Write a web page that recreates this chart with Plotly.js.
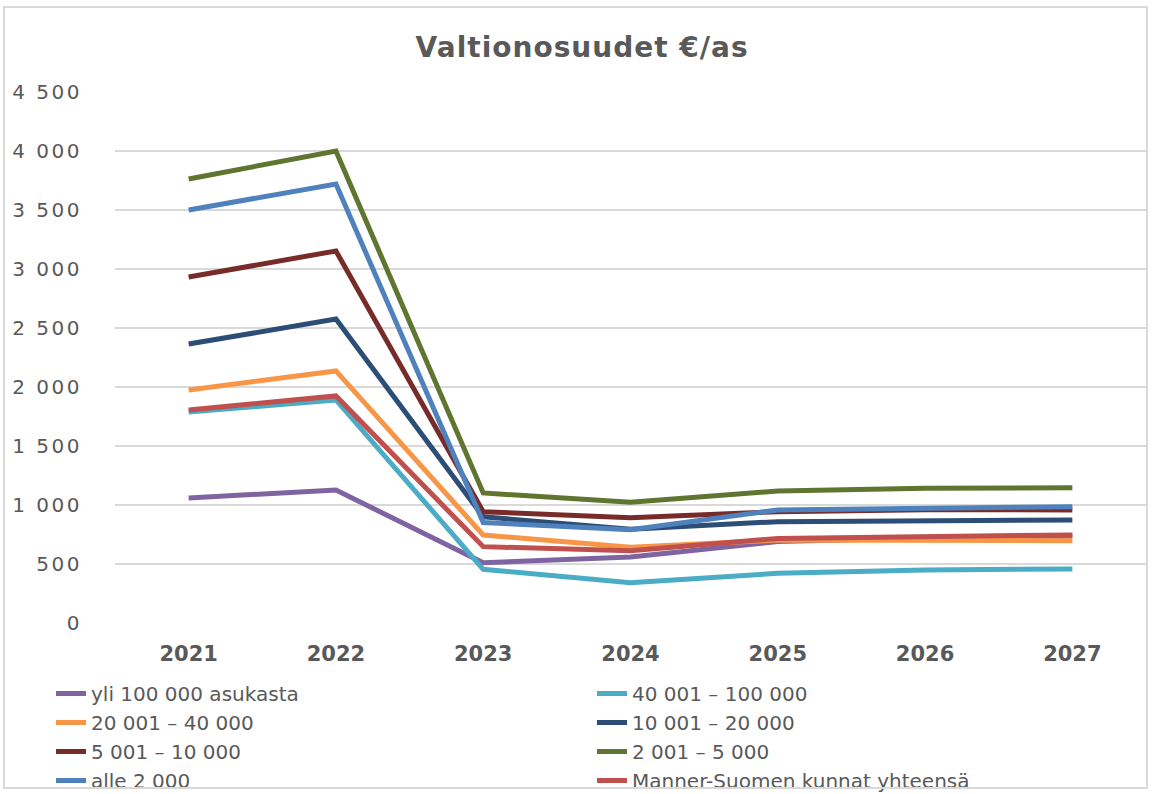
<!DOCTYPE html>
<html><head><meta charset="utf-8">
<script src="https://cdn.plot.ly/plotly-3.0.1.min.js"></script>
<style>
html,body{margin:0;padding:0;background:#fff;}
#wrap{position:relative;width:1155px;height:794px;}
#chart{width:1155px;height:794px;}
#frame{position:absolute;left:3px;top:6px;width:1145px;height:783px;border:2px solid #d9d9d9;box-sizing:border-box;pointer-events:none;}
#chart .ytick text{letter-spacing:2.5px;}
#chart .gtitle{letter-spacing:1px;}
</style>
</head><body>
<div id="wrap"><div id="chart"></div><div id="frame"></div></div>
<script>
const years = ['2021','2022','2023','2024','2025','2026','2027'];
const seriesNames = ['yli 100 000 asukasta','40 001 – 100 000','20 001 – 40 000','10 001 – 20 000','5 001 – 10 000','2 001 – 5 000','alle 2 000','Manner-Suomen kunnat yhteensä'];
const yli100000 = [1059, 1127, 511, 560, 690, 720, 738];
const v40001_100000 = [1788, 1890, 455, 342, 421, 449, 458];
const v20001_40000 = [1975, 2136, 746, 641, 703, 703, 698];
const v10001_20000 = [2364, 2576, 900, 794, 859, 867, 873];
const v5001_10000 = [2932, 3153, 943, 893, 943, 960, 958];
const v2001_5000 = [3763, 4000, 1102, 1023, 1119, 1141, 1147];
const alle2000 = [3500, 3720, 852, 790, 958, 970, 986];
const mannerSuomi = [1805, 1924, 647, 613, 717, 731, 746];
const colors = ['#8064A2','#4BACC6','#F79646','#2C4D75','#772C2A','#5F7530','#4F81BD','#C0504D'];
const allSeries = [yli100000, v40001_100000, v20001_40000, v10001_20000, v5001_10000, v2001_5000, alle2000, mannerSuomi];

const traces = allSeries.map((vals, i) => ({
  type: 'scatter', mode: 'lines', x: years, y: vals, name: seriesNames[i],
  legend: (i % 2 === 0) ? 'legend' : 'legend2',
  line: {color: colors[i], width: 5}
}));

const FONT = '"DejaVu Sans", Verdana, sans-serif';
const legendBase = {orientation: 'v', xref: 'container', yref: 'container', xanchor: 'left', yanchor: 'top',
  y: 1 - 674/794, font: {size: 20, color: '#595959', family: FONT}, itemwidth: 30,
  bgcolor: 'rgba(0,0,0,0)', borderwidth: 0, traceorder: 'normal'};

const layout = {
  width: 1155, height: 794,
  paper_bgcolor: '#fff', plot_bgcolor: '#fff',
  separators: ', ',
  font: {family: FONT, color: '#595959'},
  margin: {l: 115, r: 9, t: 92, b: 171, autoexpand: false},
  title: {text: '<b>Valtionosuudet €/as</b>', x: 0.504, xanchor: 'center', y: 1 - 47/794, yanchor: 'middle',
          font: {size: 28, color: '#595959', family: FONT}},
  xaxis: {type: 'category', range: [-0.5, 6.5], showgrid: false, zeroline: false, showline: false,
          ticks: '', tickangle: 0, tickfont: {size: 21, color: '#595959', family: FONT}, ticklabelstandoff: 16,
          tickvals: years, ticktext: years.map(y => '<b>' + y + '</b>')},
  yaxis: {range: [0, 4500], dtick: 500, tickformat: ',d', showgrid: true, gridcolor: '#d9d9d9', gridwidth: 2,
          zeroline: false, showline: false, ticks: '', tickfont: {size: 20, color: '#595959', family: FONT},
          ticklabelstandoff: 32},
  showlegend: true,
  legend: Object.assign({}, legendBase, {x: 51/1155}),
  legend2: Object.assign({}, legendBase, {x: 592/1155})
};
Plotly.newPlot('chart', traces, layout, {displayModeBar: false, staticPlot: true});
</script>
</body></html>
